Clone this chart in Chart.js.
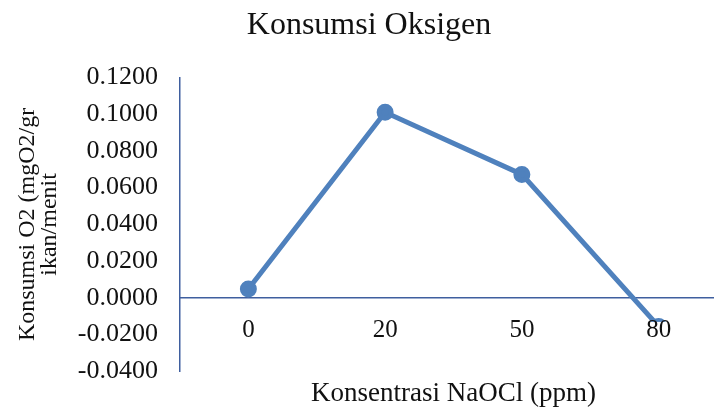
<!DOCTYPE html>
<html>
<head>
<meta charset="utf-8">
<script src="https://cdn.jsdelivr.net/npm/chart.js@4/dist/chart.umd.min.js"></script>
<style>
  html, body { margin: 0; padding: 0; background: #fff; }
  /* the plot runs past the right edge in the original, so the canvas is wider and clipped */
  #wrap { width: 714px; height: 409px; overflow: hidden; }
  #myChart { display: block; }
</style>
</head>
<body>
<div id="wrap"><canvas id="myChart" width="738" height="409"></canvas></div>
<script>
// data
const labels = ['0', '20', '50', '80'];
const konsumsi = [0.0048, 0.1010, 0.0672, -0.0155];
const yTicks = [-0.04, -0.02, 0, 0.02, 0.04, 0.06, 0.08, 0.10, 0.12];

const serif = "'Liberation Serif', 'Times New Roman', serif";
const axisBlue = '#3f5f9f';
const lineBlue = '#4f81bd';

const data = {
    labels: labels,
    datasets: [
        {
            label: 'Konsumsi Oksigen',
            data: konsumsi,
            borderColor: lineBlue,
            backgroundColor: lineBlue,
            borderWidth: 5,
            pointRadius: 6,
            pointHoverRadius: 6,
            tension: 0
        }
    ]
};

const chartInfo = {
    type: 'line',
    data: data,
    options: {
        responsive: false,
        animation: false,
        layout: {
            padding: { left: 0, right: 0, top: 4, bottom: 1 }
        },
        plugins: {
            legend: { display: false },
            tooltip: { enabled: false },
            title: {
                display: true,
                text: 'Konsumsi Oksigen',
                color: '#111',
                font: { family: serif, size: 32, weight: 'normal' },
                padding: { top: 2, bottom: 33 }
            }
        },
        scales: {
            x: {
                position: { y: 0 },
                offset: true,
                grid: { display: false, drawTicks: false },
                border: { display: true, color: axisBlue, width: 1.5 },
                ticks: {
                    z: 1,
                    color: '#111',
                    font: { family: serif, size: 25 },
                    padding: 18,
                    showLabelBackdrop: true,
                    backdropColor: '#fff',
                    backdropPadding: { top: -6, bottom: 0, left: 0, right: 0 }
                },
                title: {
                    display: true,
                    text: 'Konsentrasi NaOCl (ppm)',
                    color: '#111',
                    font: { family: serif, size: 27 },
                    padding: { top: 14, bottom: 0 }
                }
            },
            y: {
                min: -0.04,
                max: 0.12,
                afterBuildTicks: function (scale) {
                    scale.ticks = yTicks.map(v => ({ value: v }));
                },
                afterFit: function (scale) {
                    scale.width = 180;
                },
                grid: { display: false, drawTicks: false },
                border: { display: true, color: axisBlue, width: 1.5 },
                ticks: {
                    color: '#111',
                    font: { family: serif, size: 26 },
                    padding: 22,
                    callback: v => v.toFixed(4)
                },
                title: {
                    display: true,
                    text: ['Konsumsi O2 (mgO2/gr', 'ikan/menit'],
                    color: '#111',
                    font: { family: serif, size: 24, lineHeight: 0.95 },
                    padding: { top: 16, bottom: 0 }
                }
            }
        }
    }
};

new Chart(document.getElementById('myChart'), chartInfo);
</script>
</body>
</html>
